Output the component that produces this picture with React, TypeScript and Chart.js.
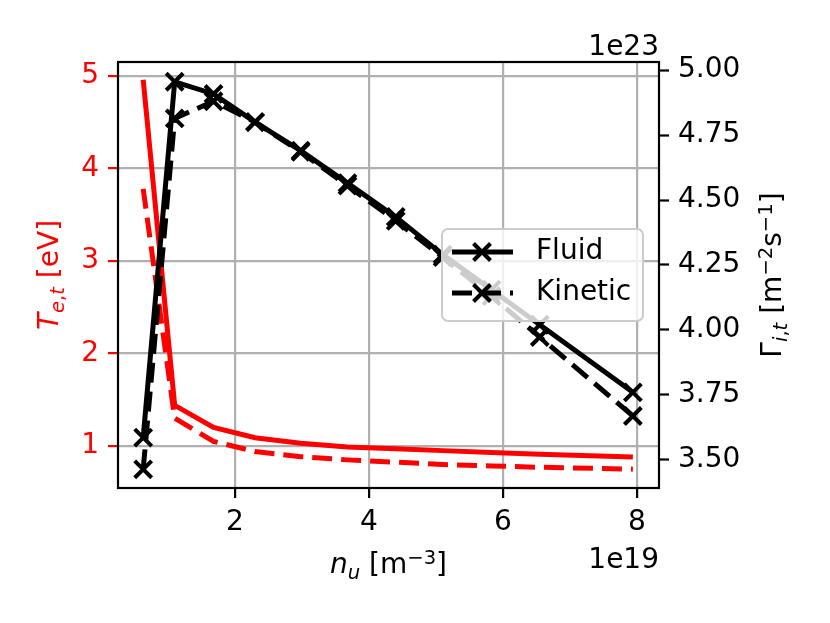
import { useEffect, useRef } from "react";
import { Chart, registerables } from "chart.js";

Chart.register(...registerables);

// upstream density in units of 1e19 m^-3
const nuValues = [0.63, 1.1, 1.68, 2.3, 2.98, 3.68, 4.4, 5.1, 5.83, 6.55, 7.94];
// target electron temperature [eV]
const teFluid = [4.96, 1.44, 1.2, 1.09, 1.03, 0.99, 0.97, 0.95, 0.93, 0.91, 0.88];
const teKinetic = [3.78, 1.3, 1.05, 0.94, 0.885, 0.85, 0.825, 0.8, 0.785, 0.77, 0.75];
// target ion flux in units of 1e23 m^-2 s^-1
const gammaFluid = [3.586, 4.955, 4.908, 4.8, 4.69, 4.565, 4.435, 4.29, 4.155, 4.02, 3.76];
const gammaKinetic = [3.464, 4.814, 4.88, 4.8, 4.685, 4.555, 4.42, 4.28, 4.13, 3.973, 3.669];

const xTicks = [2, 4, 6, 8];
const teTicks = [1, 2, 3, 4, 5];
const gammaTicks = [3.5, 3.75, 4.0, 4.25, 4.5, 4.75, 5.0];

const FONT = '"DejaVu Sans"';
const FS = 28;
const RED = "#ff0000";
const GRID = "#b0b0b0";
const DASH = [20, 9];

type Run = { t: string; it?: boolean; pos?: "sub" | "sup" };

function drawRich(ctx: CanvasRenderingContext2D, runs: Run[], x: number, y: number, rot: number, color: string) {
  const fontFor = (r: Run) => `${r.it ? "italic " : ""}${r.pos ? FS * 0.7 : FS}px ${FONT}`;
  ctx.save();
  ctx.translate(x, y);
  ctx.rotate(rot);
  ctx.fillStyle = color;
  ctx.textAlign = "left";
  ctx.textBaseline = "alphabetic";
  let total = 0;
  for (const r of runs) {
    ctx.font = fontFor(r);
    total += ctx.measureText(r.t).width;
  }
  let cx = -total / 2;
  for (const r of runs) {
    ctx.font = fontFor(r);
    const dy = r.pos === "sub" ? FS * 0.22 : r.pos === "sup" ? -FS * 0.33 : 0;
    ctx.fillText(r.t, cx, dy);
    cx += ctx.measureText(r.t).width;
  }
  ctx.restore();
}

const decorations = {
  id: "decorations",
  afterDatasetsDraw(chart: Chart) {
    const { ctx, chartArea: a } = chart;
    const midY = (a.top + a.bottom) / 2;
    ctx.save();

    // axes frame
    ctx.strokeStyle = "#000";
    ctx.lineWidth = 2.2;
    ctx.setLineDash([]);
    ctx.strokeRect(a.left, a.top, a.right - a.left, a.bottom - a.top);

    // offset texts
    ctx.font = `${FS}px ${FONT}`;
    ctx.fillStyle = "#000";
    ctx.textAlign = "right";
    ctx.textBaseline = "alphabetic";
    ctx.fillText("1e23", a.right, a.top - 7);
    ctx.fillText("1e19", a.right, a.bottom + 80);

    // legend box
    const w = 201;
    const h = 92;
    const lx = a.right - 16 - w;
    const ly = midY - h / 2;
    ctx.beginPath();
    if (ctx.roundRect) ctx.roundRect(lx, ly, w, h, 6);
    else ctx.rect(lx, ly, w, h);
    ctx.fillStyle = "rgba(255,255,255,0.8)";
    ctx.fill();
    ctx.strokeStyle = "#cccccc";
    ctx.lineWidth = 2;
    ctx.stroke();

    chart.data.datasets.slice(0, 2).forEach((ds: any, i: number) => {
      const ry = ly + 23 + i * 41;
      ctx.strokeStyle = "#000";
      ctx.lineWidth = 5;
      ctx.setLineDash(ds.borderDash || []);
      ctx.beginPath();
      ctx.moveTo(lx + 10, ry);
      ctx.lineTo(lx + 71, ry);
      ctx.stroke();
      ctx.setLineDash([]);
      ctx.lineWidth = 4;
      const r = 8.5;
      const mx = lx + 40;
      ctx.beginPath();
      ctx.moveTo(mx - r, ry - r);
      ctx.lineTo(mx + r, ry + r);
      ctx.moveTo(mx - r, ry + r);
      ctx.lineTo(mx + r, ry - r);
      ctx.stroke();
      ctx.fillStyle = "#000";
      ctx.font = `${FS}px ${FONT}`;
      ctx.textAlign = "left";
      ctx.textBaseline = "middle";
      ctx.fillText(ds.label, lx + 94, ry);
    });
    ctx.restore();

    // axis titles
    drawRich(
      ctx,
      [{ t: "T", it: true }, { t: "e", it: true, pos: "sub" }, { t: ",", pos: "sub" }, { t: "t", it: true, pos: "sub" }, { t: " [eV]" }],
      a.left - 60,
      midY,
      -Math.PI / 2,
      RED
    );
    drawRich(
      ctx,
      [{ t: "n", it: true }, { t: "u", it: true, pos: "sub" }, { t: " [m" }, { t: "\u22123", pos: "sup" }, { t: "]" }],
      (a.left + a.right) / 2,
      a.bottom + 85,
      0,
      "#000"
    );
    drawRich(
      ctx,
      [
        { t: "\u0393" },
        { t: "i", it: true, pos: "sub" },
        { t: ",", pos: "sub" },
        { t: "t", it: true, pos: "sub" },
        { t: " [m" },
        { t: "\u22122", pos: "sup" },
        { t: "s" },
        { t: "\u22121", pos: "sup" },
        { t: "]" },
      ],
      a.right + 122,
      midY,
      -Math.PI / 2,
      "#000"
    );
  },
};

export default function App() {
  const canvasRef = useRef<HTMLCanvasElement | null>(null);
  const chartRef = useRef<Chart | null>(null);

  useEffect(() => {
    const ctx = canvasRef.current?.getContext("2d");
    if (!ctx) return;
    if (chartRef.current) chartRef.current.destroy();

    const pts = (ys: number[]) => nuValues.map((x, i) => ({ x, y: ys[i] }));
    const tickFont = { family: FONT, size: FS };

    chartRef.current = new Chart(ctx, {
      type: "line",
      data: {
        datasets: [
          {
            label: "Fluid",
            data: pts(gammaFluid),
            yAxisID: "yG",
            borderColor: "#000",
            borderWidth: 5,
            pointStyle: "crossRot",
            pointRadius: 12,
            pointBorderWidth: 4,
            pointBorderColor: "#000",
            tension: 0,
          },
          {
            label: "Kinetic",
            data: pts(gammaKinetic),
            yAxisID: "yG",
            borderColor: "#000",
            borderWidth: 5,
            borderDash: DASH,
            pointStyle: "crossRot",
            pointRadius: 12,
            pointBorderWidth: 4,
            pointBorderColor: "#000",
            tension: 0,
          },
          {
            label: "Te fluid",
            data: pts(teFluid),
            yAxisID: "yT",
            borderColor: RED,
            borderWidth: 5,
            pointRadius: 0,
            tension: 0,
          },
          {
            label: "Te kinetic",
            data: pts(teKinetic),
            yAxisID: "yT",
            borderColor: RED,
            borderWidth: 5,
            borderDash: DASH,
            pointRadius: 0,
            tension: 0,
          },
        ],
      },
      options: {
        responsive: false,
        animation: false,
        events: [],
        layout: { padding: { top: 62, left: 0, right: 0, bottom: 0 } },
        plugins: {
          legend: { display: false },
          tooltip: { enabled: false },
        },
        scales: {
          x: {
            type: "linear",
            min: 0.254,
            max: 8.33,
            afterBuildTicks: (s: any) => {
              s.ticks = xTicks.map((v) => ({ value: v }));
            },
            afterFit: (s: any) => {
              s.height = 135;
            },
            ticks: { font: tickFont, color: "#000", padding: 8, maxRotation: 0, autoSkip: false, callback: (v: any) => String(v) },
            grid: { color: GRID, lineWidth: 2.2, tickColor: "#000", tickLength: 10, tickWidth: 2.2 },
            border: { display: false },
          },
          yT: {
            type: "linear",
            position: "left",
            min: 0.546,
            max: 5.151,
            afterBuildTicks: (s: any) => {
              s.ticks = teTicks.map((v) => ({ value: v }));
            },
            afterFit: (s: any) => {
              s.width = 118;
            },
            ticks: { font: tickFont, color: RED, padding: 9, callback: (v: any) => String(v) },
            grid: { color: GRID, lineWidth: 2.2, tickColor: RED, tickLength: 10, tickWidth: 2.2 },
            border: { display: false },
          },
          yG: {
            type: "linear",
            position: "right",
            min: 3.392,
            max: 5.031,
            afterBuildTicks: (s: any) => {
              s.ticks = gammaTicks.map((v) => ({ value: v }));
            },
            afterFit: (s: any) => {
              s.width = 171;
            },
            ticks: { font: tickFont, color: "#000", padding: 9, callback: (v: any) => Number(v).toFixed(2) },
            grid: { drawOnChartArea: false, tickColor: "#000", tickLength: 10, tickWidth: 2.2 },
            border: { display: false },
          },
        },
      },
      plugins: [decorations],
    });

    return () => {
      chartRef.current?.destroy();
      chartRef.current = null;
    };
  }, []);

  return (
    <div style={{ position: "fixed", left: 0, top: 0, width: 830, height: 623, background: "#fff" }}>
      <canvas ref={canvasRef} width={830} height={623} />
    </div>
  );
}
